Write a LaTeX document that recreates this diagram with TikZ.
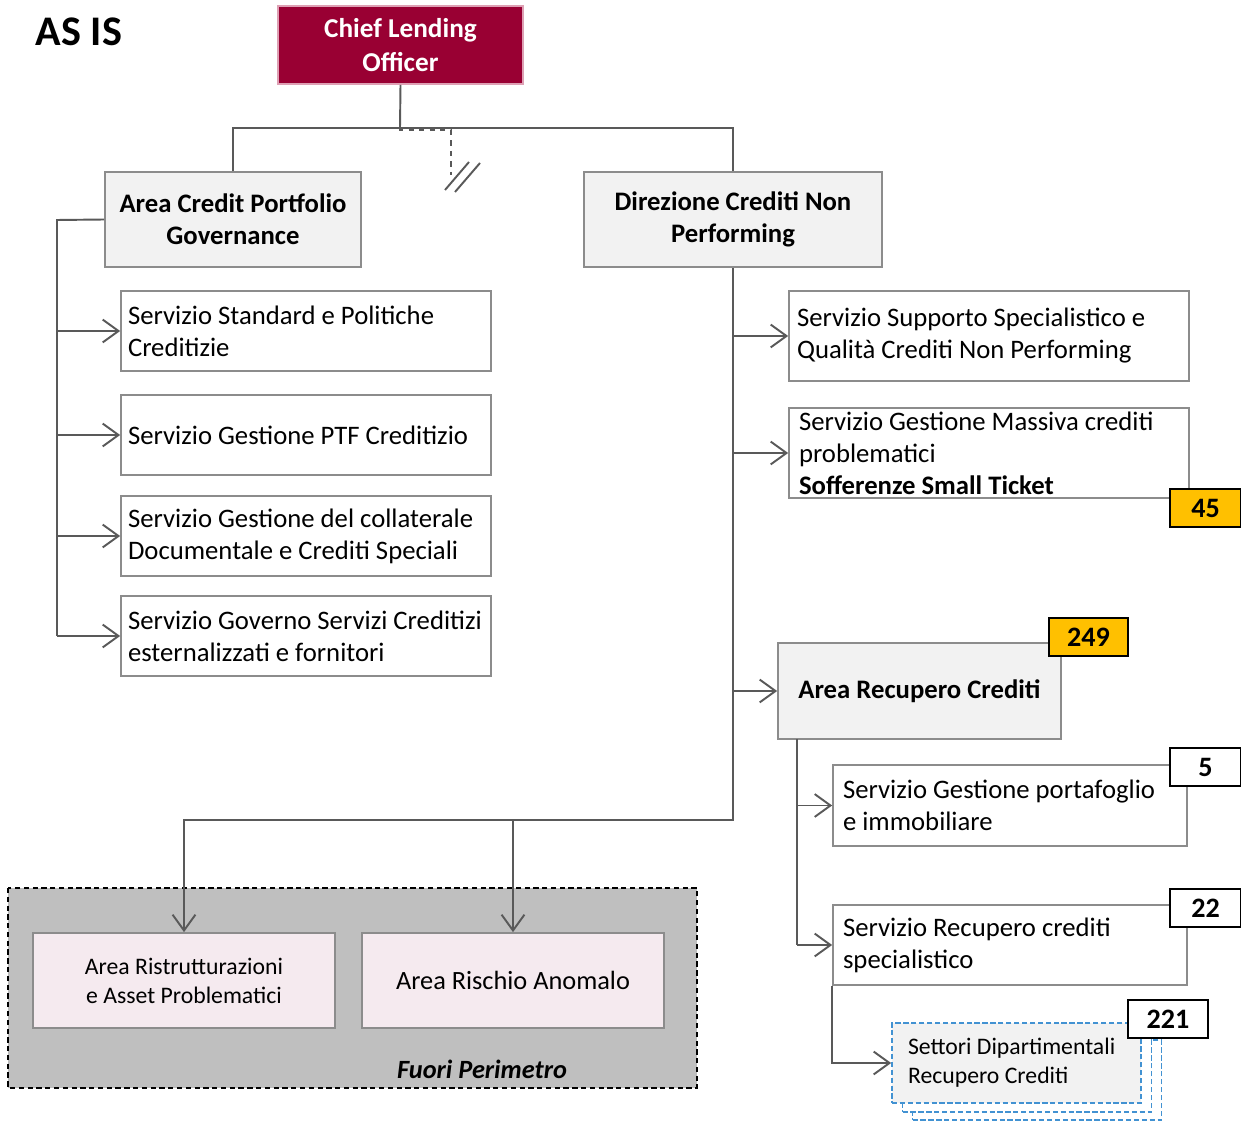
\documentclass[tikz,border=0pt]{standalone}
\usepackage{fontspec}
\setmainfont{Carlito}
\usetikzlibrary{arrows.meta}

\definecolor{clored}{RGB}{153,0,51}
\definecolor{cloedge}{RGB}{222,160,180}
\definecolor{boxgray}{RGB}{140,140,140}
\definecolor{boxfill}{RGB}{242,242,242}
\definecolor{linegray}{RGB}{89,89,89}
\definecolor{pinkfill}{RGB}{245,234,239}
\definecolor{outfill}{RGB}{191,191,191}
\definecolor{badgeyellow}{RGB}{255,192,0}
\definecolor{stackblue}{RGB}{66,146,210}

\begin{document}
\begin{tikzpicture}[x=0.02cm,y=-0.02cm,
			clo/.style={draw=cloedge,fill=clored,text=white,line width=1pt,align=center,
				font=\fontsize{15.5}{19}\selectfont\bfseries,minimum width=4.9cm,minimum height=1.56cm,inner sep=0pt},
			unit/.style={draw=boxgray,fill=boxfill,line width=1pt,align=center,
				font=\fontsize{15.2}{18.2}\selectfont\bfseries,minimum height=1.9cm,inner sep=0pt},
			service/.style={draw=boxgray,fill=white,line width=1pt,align=flush left,
				font=\fontsize{15.2}{18.2}\selectfont,minimum height=1.6cm,inner ysep=0pt},
			outside/.style={draw=boxgray,fill=pinkfill,line width=1pt,align=center,
				minimum width=6.05cm,minimum height=1.9cm,inner sep=0pt},
			stacked/.style={draw=stackblue,dash pattern=on 3pt off 1.5pt,line width=1pt,
				minimum width=4.98cm,minimum height=1.6cm,inner sep=0pt},
			badge/.style={draw=black,fill=white,line width=1pt,font=\fontsize{16}{18}\selectfont\bfseries,
				minimum width=1.42cm,minimum height=0.76cm,inner sep=0pt},
			conn/.style={draw=linegray,line width=1.1pt},
			arr/.style={conn,-{Straight Barb[length=9pt,width=13pt]}}]
			\useasboundingbox (0,0) rectangle (1241,1121);

			% out of scope area
			\draw[densely dashed,fill=outfill,line width=1pt] (8,888) rectangle (697,1088);
			\node[font=\fontsize{15}{18}\selectfont\bfseries\itshape] (fuori) at (482,1069) {Fuori Perimetro};

			\node[font=\fontsize{24}{28}\selectfont\bfseries] (as_is) at (79,32) {AS IS};
			\node[clo] (clo) at (400.5,45) {Chief Lending\\Officer};

			\node[unit,minimum width=5.12cm] (acpg) at (233,219.5) {Area Credit Portfolio\\Governance};
			\node[unit,minimum width=5.96cm] (dcnp) at (733,219.5) {Direzione Crediti Non\\Performing};

			% services under the credit portfolio area
			\node[service,inner xsep=0.14cm,text width=7.12cm] (s_1) at (306,331) {Servizio Standard e Politiche\\Creditizie};
			\node[service,inner xsep=0.14cm,text width=7.12cm] (s_2) at (306,435) {Servizio Gestione PTF Creditizio};
			\node[service,inner xsep=0.14cm,text width=7.12cm] (s_3) at (306,536) {Servizio Gestione del collaterale\\Documentale e Crediti Speciali};
			\node[service,inner xsep=0.14cm,text width=7.12cm] (s_4) at (306,636) {\mbox{Servizio Governo Servizi Creditizi}\\esternalizzati e fornitori};

			% non performing side
			\node[service,minimum height=1.8cm,inner xsep=0.16cm,text width=7.68cm] (sss) at (989,336) {Servizio Supporto Specialistico e\\Qualità Crediti Non Performing};
			\node[service,minimum height=1.8cm,inner xsep=0.2cm,text width=7.6cm] (sgm) at (989,453) {Servizio Gestione Massiva crediti\\problematici\\\textbf{Sofferenze Small Ticket}};
			\node[badge,fill=badgeyellow] (n_45) at (1205.5,508) {45};

			\node[unit,minimum width=5.66cm,minimum height=1.92cm] (arc) at (919.5,691) {Area Recupero Crediti};
			\node[badge,fill=badgeyellow,minimum width=1.58cm] (n_249) at (1088.5,637) {249};

			\node[service,minimum height=1.62cm,inner xsep=0.2cm,text width=6.68cm] (sgp) at (1010,805.5) {Servizio Gestione portafoglio\\e immobiliare};
			\node[badge] (n_5) at (1205.5,767) {5};
			\node[service,inner xsep=0.2cm,text width=6.68cm] (src) at (1010,945) {Servizio Recupero crediti\\specialistico};
			\node[badge] (n_22) at (1205.5,908) {22};

			\node[stacked,fill=white] (sdr_3) at (1037,1080) {};
			\node[stacked,fill=white] (sdr_2) at (1027,1072) {};
			\node[stacked,fill=boxfill,align=flush left,font=\fontsize{13.5}{16.5}\selectfont,
				inner xsep=0.32cm,text width=4.34cm] (sdr) at (1016.5,1063) {Settori Dipartimentali\\Recupero Crediti};
			\node[badge,minimum width=1.6cm] (n_221) at (1168,1019) {221};

			\node[outside,font=\fontsize{13.5}{16.5}\selectfont] (arap) at (184,980.5) {Area Ristrutturazioni\\e Asset Problematici};
			\node[outside,font=\fontsize{15}{18}\selectfont] (ara) at (513,980.5) {Area Rischio Anomalo};

			% top level links
			\coordinate (j_0) at (400,128);
			\coordinate (cut) at (451,175);
			\draw[conn] (clo.south) -- (j_0);
			\draw[conn] (acpg.north) |- (dcnp.north |- j_0) -- (dcnp.north);
			\draw[conn,dashed] (j_0) -- ++(0,2) -| (cut);
			\draw[conn] ([shift={(-6,15)}]cut) -- ++(24,-28);
			\draw[conn] ([shift={(4,17)}]cut) -- ++(25,-29);

			% left bus
			\coordinate (lbus) at (57,220);
			\draw[conn] (acpg.west) -- (lbus) -- (lbus |- s_4.west);
			\foreach \n in {s_1,s_2,s_3,s_4}
				\draw[arr] (lbus |- \n.west) -- (\n.west);

			% right bus
			\coordinate (rbus) at (733,820);
			\draw[arr] (dcnp.south) -- (rbus) -| (arap.north);
			\draw[arr] (rbus -| ara.north) -- (ara.north);
			\foreach \n in {sss,sgm,arc}
				\draw[arr] (dcnp.south |- \n.west) -- (\n.west);

			% recupero crediti
			\coordinate (abus) at (797,739);
			\draw[conn] (abus) -- (abus |- src.west);
			\foreach \n in {sgp,src}
				\draw[arr] (abus |- \n.west) -- (\n.west);
			\draw[arr] (src.south west) |- (sdr.west);
		\end{tikzpicture}
\end{document}
